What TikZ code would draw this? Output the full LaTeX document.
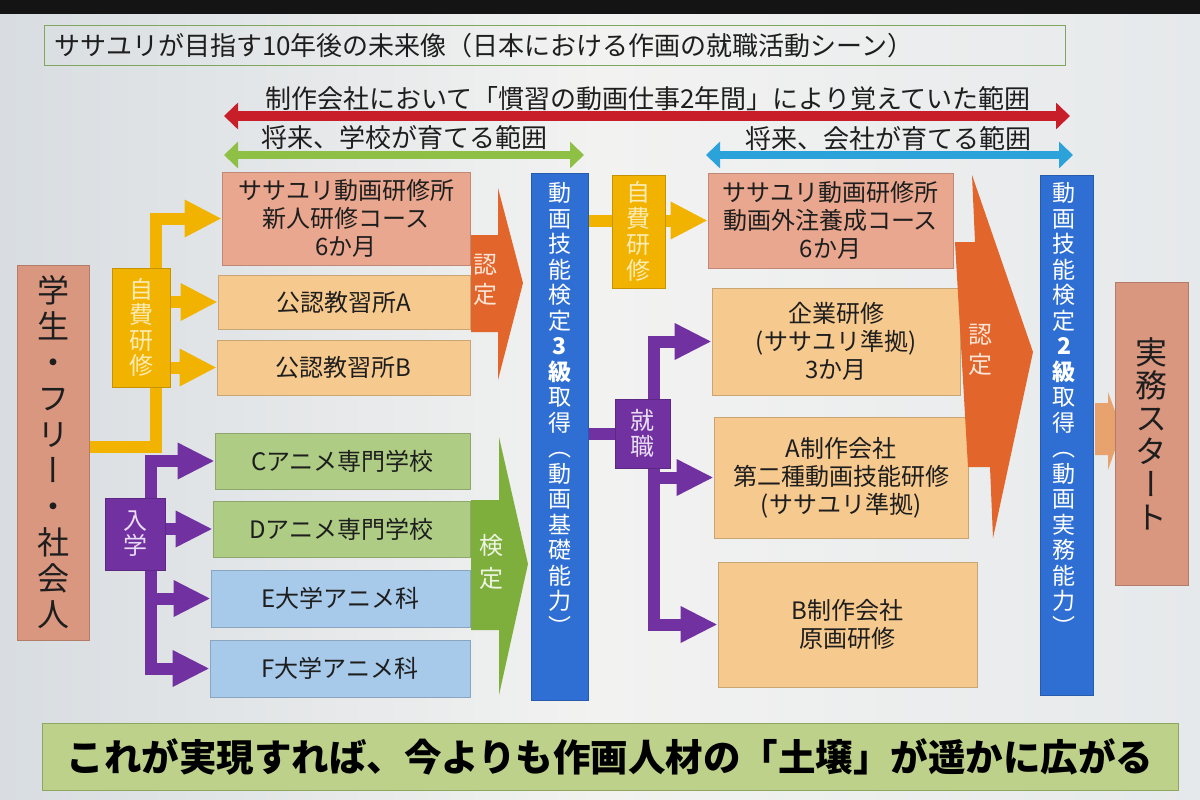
\documentclass[tikz,border=0pt]{standalone}
\usepackage{fontspec}
\setmainfont{Noto Sans CJK JP}
\newfontfamily\vfont{Noto Sans CJK JP}[RawFeature=+vert]
\usetikzlibrary{arrows.meta}
\definecolor{txt}{HTML}{1E1E1E}
\definecolor{titleg}{HTML}{7FA65E}
\definecolor{rr}{HTML}{C81E2A}
\definecolor{garr}{HTML}{8DC044}
\definecolor{barr}{HTML}{2CA2DB}
\definecolor{sal}{HTML}{E9A78F}
\definecolor{stuc}{HTML}{D9977F}
\definecolor{ora}{HTML}{F6C98E}
\definecolor{grb}{HTML}{AECC84}
\definecolor{blb}{HTML}{A7C9EA}
\definecolor{yel}{HTML}{F1B300}
\definecolor{pur}{HTML}{7131A1}
\definecolor{orA}{HTML}{E2652B}
\definecolor{grA}{HTML}{7EAF3D}
\definecolor{blu}{HTML}{2F6FD4}
\definecolor{smA}{HTML}{E8A26E}
\definecolor{ban}{HTML}{BED18B}
\definecolor{banB}{HTML}{8EA65F}
\definecolor{bgA}{HTML}{D8DDE1}
\definecolor{bgB}{HTML}{E6E9EB}
\definecolor{bgC}{HTML}{F2F2F1}
\definecolor{ylt}{HTML}{FCEBB4}
\definecolor{plt}{HTML}{E8DDF3}
\definecolor{olt}{HTML}{FDE5D6}
\definecolor{glt}{HTML}{EEF5E2}
\pgfdeclarelayer{back}
\pgfdeclarelayer{lines}
\pgfsetlayers{back,lines,main}
\begin{document}
\begin{tikzpicture}[x=1pt,y=-1pt,
  bx/.style={draw=#1!82!black, fill=#1, line width=0.7pt, inner sep=0pt, text=txt, align=center, font=\fontsize{24}{28}\selectfont},
  vlab/.style={inner sep=0pt, align=center, text=#1},
  yline/.style={draw=yel, line width=12pt, line join=miter, -{Triangle[length=37pt,width=35pt]}},
  pline/.style={draw=pur, line width=12pt, line join=miter, -{Triangle[length=37pt,width=34pt]}},
  ptips/.style={{Triangle[length=37pt,width=34pt]}-{Triangle[length=37pt,width=34pt]}},
  rng/.style={line width=#1, {Triangle[length=14pt,width=26pt]}-{Triangle[length=14pt,width=26pt]}},
  rtext/.style={inner sep=0pt, text=txt, font=\fontsize{26}{30}\selectfont}
]
\useasboundingbox (0,0) rectangle (1200,800);
\begin{pgfonlayer}{back}
\shade[left color=bgA, right color=bgB, middle color=bgC] (0,0) rectangle (1200,800);
\fill[black!92] (0,0) rectangle (1200,14);
\end{pgfonlayer}

% title
\node[draw=titleg, line width=1pt, minimum width=1021, minimum height=40, text width=1001, align=left, inner sep=0pt, font=\fontsize{26}{30}\selectfont, text=txt] (title) at (554.5,46) {ササユリが目指す10年後の未来像（日本における作画の就職活動シーン）};

% range arrows
\coordinate (ra) at (224,116); \coordinate (rb) at (1070,116);
\coordinate (ga) at (224,155); \coordinate (gb) at (584,155);
\coordinate (bA) at (706,155); \coordinate (bB) at (1073,155);
\draw[rng=10pt, draw=rr] (ra) -- (rb);
\draw[rng=8pt, draw=garr] (ga) -- (gb);
\draw[rng=8pt, draw=barr] (bA) -- (bB);
\node[rtext] (rt) at (648,99) {制作会社において「慣習の動画仕事2年間」により覚えていた範囲};
\node[rtext] (gt) at (404,138) {将来、学校が育てる範囲};
\node[rtext] (bt) at (888,139) {将来、会社が育てる範囲};

% left column
\node[bx=stuc, minimum width=72, minimum height=375, font=\vfont\fontsize{32}{36}\selectfont] (stu) at (53,452.5) {学\\生\\・\\フ\\リ\\ー\\・\\社\\会\\人};
\node[bx=yel, minimum width=58, minimum height=119, text=ylt, font=\vfont\fontsize{24}{25.5}\selectfont] (y1) at (141,327.5) {自\\費\\研\\修};
\node[bx=pur, minimum width=60, minimum height=72, text=plt, font=\vfont\fontsize{24}{25}\selectfont] (p1) at (135,534) {入\\学};

% schools
\node[bx=sal, minimum width=248, minimum height=93] (s1) at (346,218.5) {ササユリ動画研修所\\新人研修コース\\6か月};
\node[bx=ora, minimum width=252, minimum height=54] (kA) at (344,302) {公認教習所A};
\node[bx=ora, minimum width=253, minimum height=55] (kB) at (343.5,367.5) {公認教習所B};
\node[bx=grb, minimum width=255, minimum height=56] (C) at (342.5,461) {Cアニメ専門学校};
\node[bx=grb, minimum width=257, minimum height=56] (D) at (341.5,529) {Dアニメ専門学校};
\node[bx=blb, minimum width=259, minimum height=57] (E) at (340.5,598.5) {E大学アニメ科};
\node[bx=blb, minimum width=260, minimum height=57] (F) at (340,668.5) {F大学アニメ科};

% big block arrows (left)
\fill[orA] (471,235) -- (498,235) -- (498,188) -- (523,283) -- (498,380) -- (498,332) -- (471,332) -- cycle;
\fill[grA] (471,500) -- (499,500) -- (499,437) -- (528,564) -- (499,695) -- (499,630) -- (471,630) -- cycle;
\node[vlab=olt, font=\vfont\fontsize{24}{30}\selectfont] (n1) at (485,280) {認\\定};
\node[vlab=glt, font=\vfont\fontsize{24}{33}\selectfont] (n2) at (491,562) {検\\定};

% bar 1
\node[bx=blu, minimum width=57, minimum height=527] (bar1) at (559.5,436.5) {};
\node[vlab=white, font=\vfont\fontsize{23}{25.5}\selectfont] (b1t) at (559.5,409) {動\\画\\技\\能\\検\\定\\{\bfseries 3}\\{\bfseries 級}\\取\\得\\（\\動\\画\\基\\礎\\能\\力\\）};

% right column
\node[bx=yel, minimum width=53, minimum height=113, text=ylt, font=\vfont\fontsize{24}{26}\selectfont] (y2) at (638.5,231.5) {自\\費\\研\\修};
\node[bx=pur, minimum width=55, minimum height=69, text=plt, font=\vfont\fontsize{24}{26}\selectfont] (p2) at (642.5,433.5) {就\\職};
\node[bx=sal, minimum width=245, minimum height=95] (s2) at (830.5,220.5) {ササユリ動画研修所\\動画外注養成コース\\6か月};
\node[bx=ora, minimum width=248, minimum height=107] (kig) at (836,341.5) {企業研修\\(ササユリ準拠)\\3か月};
\node[bx=ora, minimum width=254, minimum height=121] (Aco) at (841,477.5) {A制作会社\\第二種動画技能研修\\(ササユリ準拠)};
\node[bx=ora, minimum width=259, minimum height=125] (Bco) at (847.5,624.5) {B制作会社\\原画研修};

\fill[orA] (955,242) -- (975,242) -- (972,175) -- (1033,352) -- (993,538) -- (990,467) -- (968,467) -- cycle;
\node[vlab=olt, font=\vfont\fontsize{24}{30}\selectfont] (n3) at (980,350) {認\\定};

% bar 2
\node[bx=blu, minimum width=53, minimum height=520] (bar2) at (1066.5,435) {};
\node[vlab=white, font=\vfont\fontsize{23}{25.5}\selectfont] (b2t) at (1064,409) {動\\画\\技\\能\\検\\定\\{\bfseries 2}\\{\bfseries 級}\\取\\得\\（\\動\\画\\実\\務\\能\\力\\）};

\fill[smA] (1095,403) -- (1108,403) -- (1108,392) -- (1122,430) -- (1108,470) -- (1108,455) -- (1095,455) -- cycle;
\node[bx=stuc, minimum width=73, minimum height=303, font=\vfont\fontsize{32}{33}\selectfont] (job) at (1151.5,433.5) {実\\務\\ス\\タ\\ー\\ト};

% bottom banner
\node[draw=banB, fill=ban, line width=1pt, minimum width=1136, minimum height=67, inner sep=0pt, font=\bfseries\fontsize{37.5}{40}\selectfont, text=black] (ban) at (610,756.5) {これが実現すれば、今よりも作画人材の「土壌」が遥かに広がる};

% connectors
\begin{pgfonlayer}{lines}
\coordinate (yj) at (156,447);
\draw[yline] (stu.east |- yj) -- (yj) |- (s1.west);
\draw[yline] (yj |- kA.west) -- (kA.west);
\draw[yline] (yj |- kB.west) -- (kB.west);
\coordinate (pt) at (151,668.5);
\draw[pline, ptips] (C.west) -| (pt) -- (F.west);
\draw[pline] (pt |- D.west) -- (D.west);
\draw[pline] (pt |- E.west) -- (E.west);
\draw[yline] (bar1.east |- s2.west) -- (s2.west);
\coordinate (qt) at (654,624.5);
\draw[pline, ptips] (kig.west) -| (qt) -- (Bco.west);
\draw[pline] (qt |- Aco.west) -- (Aco.west);
\draw[draw=pur, line width=12pt] (bar1.east |- p2.west) -- (p2.west);
\end{pgfonlayer}
\end{tikzpicture}
\end{document}
